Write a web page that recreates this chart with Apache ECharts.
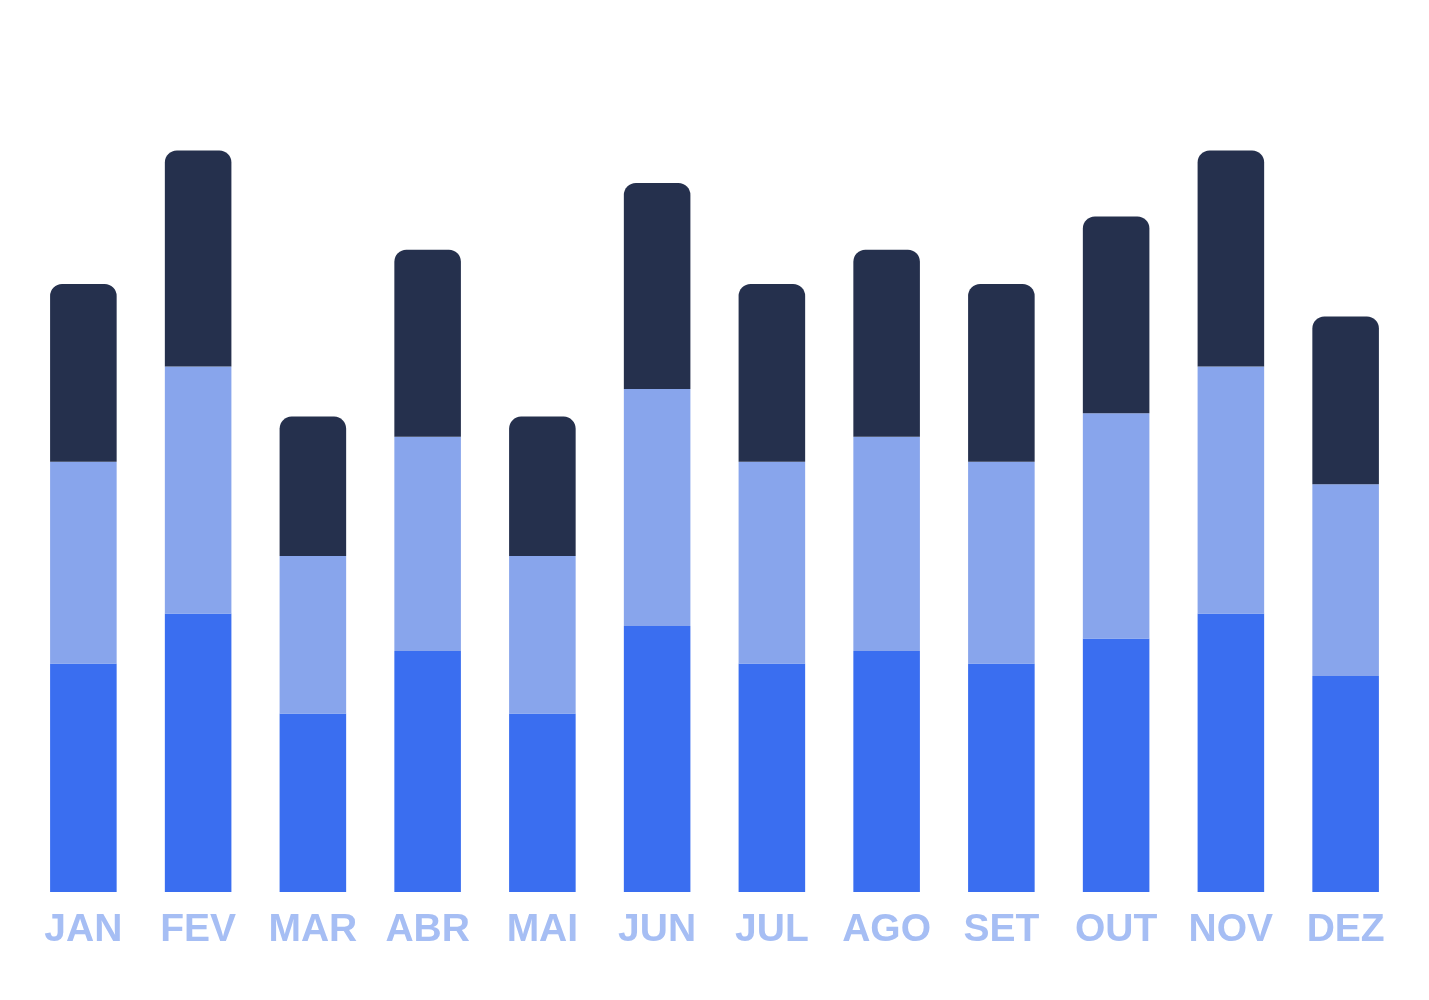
<!DOCTYPE html>
<html>
<head>
<meta charset="utf-8">
<script src="https://cdn.jsdelivr.net/npm/echarts@6/dist/echarts.min.js"></script>
<style>
html,body{margin:0;padding:0;background:#fff;}
#chart{width:1429px;height:1000px;}
</style>
</head>
<body>
<div id="chart"></div>
<script>
var categories = ['JAN','FEV','MAR','ABR','MAI','JUN','JUL','AGO','SET','OUT','NOV','DEZ'];
var seriesBottom = [27.4, 33.4, 21.4, 28.9, 21.4, 31.9, 27.4, 28.9, 27.4, 30.4, 33.4, 25.9];
var seriesMiddle = [24.2, 29.6, 18.9, 25.7, 18.9, 28.4, 24.2, 25.7, 24.2, 27.0, 29.6, 23.0];
var seriesTop    = [21.3, 25.9, 16.7, 22.4, 16.7, 24.7, 21.3, 22.4, 21.3, 23.6, 25.9, 20.1];

var chart = echarts.init(document.getElementById('chart'), null, {renderer:'canvas'});
chart.setOption({
  animation: false,
  backgroundColor: '#ffffff',
  grid: {left: 26, right: 26, top: 58, bottom: 108, containLabel: false},
  xAxis: {
    type: 'category',
    data: categories,
    axisLine: {show: false},
    axisTick: {show: false},
    axisLabel: {
      color: '#A6BEF4',
      fontSize: 39,
      fontWeight: 'bold',
      fontFamily: 'Liberation Sans, Arial, sans-serif',
      margin: 19,
      interval: 0
    }
  },
  yAxis: {
    type: 'value', min: 0, max: 100, show: false,
    splitLine: {show: false}
  },
  series: [
    {type: 'bar', stack: 's', data: seriesBottom, barWidth: '58%', itemStyle: {color: '#3A6EF0'}},
    {type: 'bar', stack: 's', data: seriesMiddle, barWidth: '58%', itemStyle: {color: '#88A5EC'}},
    {type: 'bar', stack: 's', data: seriesTop, barWidth: '58%', itemStyle: {color: '#25304D', borderRadius: [12,12,0,0]}}
  ]
});
</script>
</body>
</html>
